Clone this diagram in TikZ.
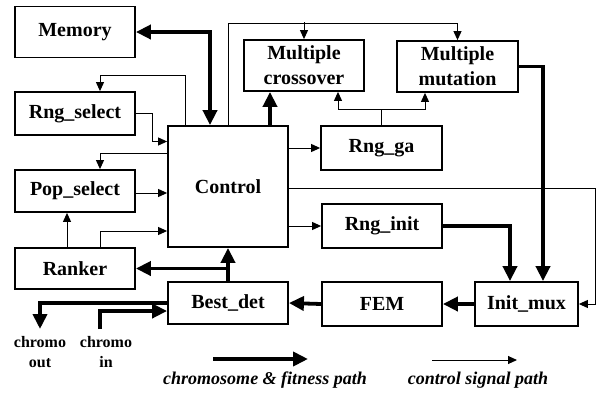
\documentclass[tikz,border=0pt]{standalone}
\usepackage{fontspec}
\setmainfont{Liberation Serif}
\usetikzlibrary{arrows.meta,calc}
\tikzset{
  box/.style={draw, line width=1.8pt, inner sep=0pt, align=center,
    font=\fontsize{20}{25}\selectfont\bfseries},
  thk/.style={line width=3.8pt, -{Triangle[length=15pt,width=14pt]}},
  thkline/.style={line width=3.8pt},
  thn/.style={line width=1pt, -{Triangle[length=9pt,width=8pt]}},
  thnline/.style={line width=1pt},
  lbl/.style={align=center, font=\fontsize{16}{20}\selectfont\bfseries},
  leg/.style={font=\fontsize{18}{22}\selectfont\bfseries\itshape}
}
\begin{document}
\begin{tikzpicture}[x=1pt,y=-1pt]
\useasboundingbox (0,0) rectangle (598,392);
% boxes
\node[box, minimum width=120pt, minimum height=51pt] (Memory) at (75,32) {Memory};
\node[box, minimum width=120pt, minimum height=43pt] (Rngsel) at (75,113.5) {Rng\_select};
\node[box, minimum width=120pt, minimum height=42pt] (Popsel) at (75,191) {Pop\_select};
\node[box, minimum width=120pt, minimum height=41pt] (Ranker) at (75,268.5) {Ranker};
\node[box, minimum width=120pt, minimum height=121pt] (Control) at (228,186.5) {Control};
\node[box, minimum width=120pt, minimum height=42pt] (Bestdet) at (228,303) {Best\_det};
\node[box, minimum width=120pt, minimum height=51pt] (Mcross) at (304,65.5) {Multiple\\crossover};
\node[box, minimum width=121pt, minimum height=51pt] (Mmut) at (457.5,66.5) {Multiple\\mutation};
\node[box, minimum width=121pt, minimum height=44pt] (Rngga) at (381.5,148) {Rng\_ga};
\node[box, minimum width=120pt, minimum height=44pt] (Rnginit) at (382,226) {Rng\_init};
\node[box, minimum width=120pt, minimum height=44pt] (FEM) at (382,304) {FEM};
\node[box, minimum width=103pt, minimum height=44pt] (Initmux) at (526.5,304) {Init\_mux};
% labels
\node[lbl] (lout) at (40,352) {chromo\\out};
\node[lbl] (lin) at (106,352) {chromo\\in};
\node[leg] (leg1) at (265,380) {chromosome \& fitness path};
\node[leg] (leg2) at (478,380) {control signal path};
% tap coordinates
\coordinate (cmem) at ([xshift=-18pt]Control.north);
\coordinate (crs) at ([xshift=-43pt]Control.north);
\coordinate (ccx) at ([xshift=42pt]Control.north);
\coordinate (cxga) at ([xshift=34pt]Mcross.south);
\coordinate (cmga) at ([xshift=-32.5pt]Mmut.south);
\coordinate (cmux1) at ([xshift=-16.5pt]Initmux.north);
\coordinate (cmux2) at ([xshift=16.5pt]Initmux.north);
\coordinate (cout) at (40,329);
\coordinate (cin) at (100,329);
\coordinate (l1a) at (213,359);
\coordinate (l1b) at (308,359);
\coordinate (l2a) at (432,360);
\coordinate (l2b) at (517,360);
% thick connectors
\draw[thk, {Triangle[length=15pt,width=14pt]}-{Triangle[length=15pt,width=14pt]}] (Memory.east) -| (cmem);
\draw[thk] (ccx) -- (ccx |- Mcross.south);
\draw[thk] (Mmut.east) -| (cmux2);
\draw[thk] (Rnginit.east) -| (cmux1);
\draw[thk] (Initmux.west) -- (FEM.east);
\draw[thk] (FEM.west) -- (Bestdet.east);
\draw[thk] (Bestdet.north) -- (Control.south);
\draw[thk] (Bestdet.north |- Ranker.east) -- (Ranker.east);
\draw[thk] (Bestdet.west) -| (cout);
\draw[thk] (cin) |- ([yshift=-8pt]Bestdet.west);
% thin connectors
\draw[thn] (Control.north) |- ([yshift=17pt]Mmut.north) -- (Mmut.north);
\draw[thn] ([yshift=17pt]Mcross.north) -- (Mcross.north);
\draw[thn] (crs) |- ([xshift=25pt,yshift=16pt]Rngsel.north) -- ([xshift=25pt]Rngsel.north);
\draw[thn] (Rngsel.east) -- ++(17,0) |- ([yshift=45pt]Control.west);
\draw[thn] ([yshift=33pt]Control.west) -| ([xshift=25pt]Popsel.north);
\draw[thn] ([yshift=-2pt]Popsel.east) -- ([yshift=-2pt]Popsel.east -| Control.west);
\draw[thn] ([xshift=-8pt]Ranker.north) -- ([xshift=-8pt]Popsel.south);
\draw[thn] ([xshift=25pt]Ranker.north) |- ([yshift=-44.5pt]Control.west);
\draw[thn] (Control.east |- Rngga.west) -- (Rngga.west);
\draw[thnline] (Rngga.north) -- ++(0,-16) coordinate (gtop);
\draw[thn] (gtop) -| (cxga);
\draw[thn] (gtop) -| (cmga);
\draw[thn] ([yshift=-1.5pt]Control.east) -- ++(307,0) |- (Initmux.east);
\draw[thn] (Control.east |- Rnginit.west) -- (Rnginit.west);
% legend
\draw[thk] (l1a) -- (l1b);
\draw[thn] (l2a) -- (l2b);
\end{tikzpicture}
\end{document}
